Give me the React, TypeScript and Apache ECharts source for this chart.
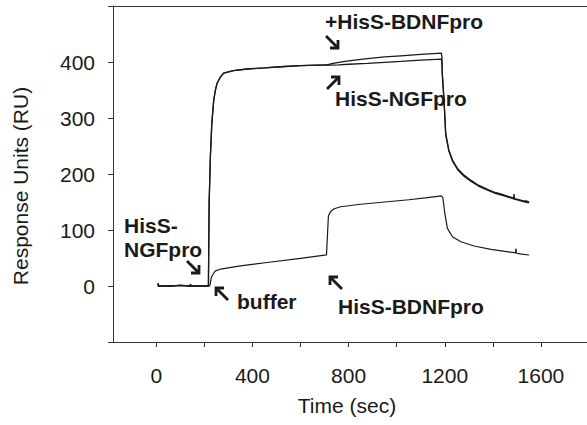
import React, { useEffect, useRef } from "react";
import * as echarts from "echarts";

// Time (sec) and response (RU) for the three sensorgram traces
const timeNGF = [8, 9, 12, 60, 100, 141, 142, 144, 180, 210, 217, 218, 220, 225, 231, 239, 246, 253, 265, 280, 321, 378, 450, 517, 600, 711, 730, 760, 800, 878, 950, 1017, 1100, 1186, 1188, 1190, 1197, 1204, 1217, 1232, 1253, 1280, 1308, 1340, 1378, 1410, 1447, 1490, 1520, 1538, 1540, 1542, 1551];
const valNGF = [5, -1, 0, 0, 1, 0, 3, 0, 0, 0, 0, 60, 150, 230, 290, 332, 350, 362, 372, 380, 384.5, 387.5, 389.5, 391.5, 393.5, 395, 394.5, 395, 396, 397.5, 399.5, 401, 403.5, 405, 400, 375, 330, 270, 241, 223, 208, 196, 187, 178.5, 171, 165.5, 161, 155, 151.5, 149.5, 153, 149, 148.5];

const timeBDNFplus = [8, 9, 12, 60, 100, 141, 142, 144, 180, 210, 217, 218, 220, 225, 231, 239, 246, 253, 265, 280, 321, 378, 450, 517, 600, 711, 730, 760, 800, 878, 950, 1017, 1100, 1186, 1188, 1190, 1197, 1204, 1217, 1232, 1253, 1280, 1308, 1340, 1378, 1410, 1447, 1486, 1488, 1490, 1520, 1551];
const valBDNFplus = [5, -1, 0, 0, 1, 0, 3, 0, 0, 0, 0, 60, 150, 230, 290, 332, 350, 362, 372, 380, 384.5, 387.5, 389.5, 391.5, 393.5, 395, 397, 399.5, 402, 406, 409, 411, 413.5, 416, 410, 380, 332, 272, 243, 225, 210, 198, 189, 180, 172.7, 167, 162.5, 157, 164, 156, 153, 150];

const timeBuffer = [8, 9, 12, 60, 100, 141, 142, 144, 180, 210, 222, 225, 229, 236, 246, 267, 350, 461, 600, 708, 712, 716, 725, 740, 767, 850, 950, 1050, 1120, 1186, 1192, 1196, 1200, 1211, 1232, 1267, 1322, 1392, 1489, 1494, 1496, 1498, 1520, 1551];
const valBuffer = [5, -1, 0, 0, 1, 0, 3, 0, 0, 0, 0, 5, 15, 21, 27, 30, 36, 42, 49.5, 55.5, 90, 125, 133, 138, 141.5, 146, 150, 154, 157.5, 161, 158, 145, 130, 103, 88, 79, 71.4, 65.5, 59.5, 59, 67, 58.5, 57, 55.4];

const xTickValues = [0, 200, 400, 600, 800, 1000, 1200, 1400, 1600];
const xLabelValues = [0, 400, 800, 1200, 1600];
const yLabelValues = [0, 100, 200, 300, 400];

const FONT = "'Liberation Sans', Arial, Helvetica, sans-serif";
const INK = "#1a1a1a";
const FS = 21;

function zip(t: number[], v: number[]) {
  return t.map((x, i) => [x, v[i]]);
}

function arrow(tipX: number, tipY: number, dx: number, dy: number) {
  const L = 12;
  const H = 8;
  return [
    {
      type: "polyline",
      shape: { points: [[tipX - dx * L, tipY - dy * L], [tipX, tipY]] },
      style: { stroke: INK, lineWidth: 2.8, fill: "none" },
    },
    {
      type: "polyline",
      shape: { points: [[tipX - dx * H, tipY], [tipX, tipY], [tipX, tipY - dy * H]] },
      style: { stroke: INK, lineWidth: 2.8, fill: "none", lineJoin: "miter" },
    },
  ];
}

function label(text: string, x: number, y: number, bold = true) {
  return {
    type: "text",
    x,
    y,
    style: {
      text,
      fontSize: FS,
      fontWeight: bold ? "bold" : "normal",
      fontFamily: FONT,
      fill: INK,
      align: "left",
      verticalAlign: "middle",
      textAlign: "left",
      textVerticalAlign: "middle",
    },
  };
}

export default function App() {
  const ref = useRef<HTMLDivElement>(null);
  useEffect(() => {
    if (!ref.current) return;
    const chart = echarts.init(ref.current, undefined, { renderer: "svg" });
    const lineStyle = { color: INK, width: 1.3 };
    chart.setOption({
      animation: false,
      backgroundColor: "#fff",
      grid: { left: 113, top: 6, width: 476, height: 336, outerBoundsMode: "none", containLabel: false },
      xAxis: [
        {
          type: "value",
          min: -180,
          max: 1800,
          position: "bottom",
          axisLine: { show: true, onZero: false, lineStyle: { color: "#333", width: 1 } },
          axisTick: { show: true, customValues: xTickValues, length: 5, lineStyle: { color: "#333" } },
          axisLabel: {
            customValues: xLabelValues,
            fontSize: FS,
            color: INK,
            fontFamily: FONT,
            margin: 23,
            formatter: (v: number) => String(v),
          },
          splitLine: { show: false },
        },
        {
          type: "value",
          min: -180,
          max: 1800,
          position: "top",
          axisLine: { show: true, onZero: false, lineStyle: { color: "#333", width: 1 } },
          axisTick: { show: false },
          axisLabel: { show: false },
          splitLine: { show: false },
        },
      ],
      yAxis: {
        type: "value",
        min: -100,
        max: 500,
        interval: 100,
        axisLine: { show: true, onZero: false, lineStyle: { color: "#333", width: 1 } },
        axisTick: { show: true, length: 5, lineStyle: { color: "#333" } },
        axisLabel: {
          fontSize: FS,
          color: INK,
          fontFamily: FONT,
          margin: 18,
          formatter: (v: number) => (yLabelValues.indexOf(v) >= 0 ? String(v) : ""),
        },
        splitLine: { show: false },
      },
      series: [
        { type: "line", data: zip(timeBuffer, valBuffer), showSymbol: false, lineStyle: { ...lineStyle, width: 1.2 }, silent: true },
        { type: "line", data: zip(timeNGF, valNGF), showSymbol: false, lineStyle, silent: true },
        { type: "line", data: zip(timeBDNFplus, valBDNFplus), showSymbol: false, lineStyle, silent: true },
      ],
      graphic: [
        {
          type: "text",
          x: 20,
          y: 186,
          rotation: Math.PI / 2,
          style: {
            text: "Response Units (RU)",
            fontSize: FS,
            fontFamily: FONT,
            fill: INK,
            align: "center",
            verticalAlign: "middle",
            textAlign: "center",
            textVerticalAlign: "middle",
          },
        },
        {
          type: "text",
          x: 347,
          y: 405,
          style: {
            text: "Time (sec)",
            fontSize: FS,
            fontFamily: FONT,
            fill: INK,
            align: "center",
            verticalAlign: "middle",
            textAlign: "center",
            textVerticalAlign: "middle",
          },
        },
        label("+HisS-BDNFpro", 325, 21),
        label("HisS-NGFpro", 335, 98),
        label("HisS-BDNFpro", 338, 306),
        label("buffer", 237, 301),
        label("HisS-", 124, 225),
        label("NGFpro", 124, 249),
        ...arrow(338, 48, 1, 1),
        ...arrow(339, 77, 1, -1),
        ...arrow(330, 277, -1, -1),
        ...arrow(216, 288, -1, -1),
        ...arrow(199, 273, 1, 1),
      ],
    });
    return () => chart.dispose();
  }, []);
  return (
    <div
      ref={ref}
      style={{ position: "absolute", left: 0, top: 0, width: 587, height: 425, background: "#fff" }}
    />
  );
}
